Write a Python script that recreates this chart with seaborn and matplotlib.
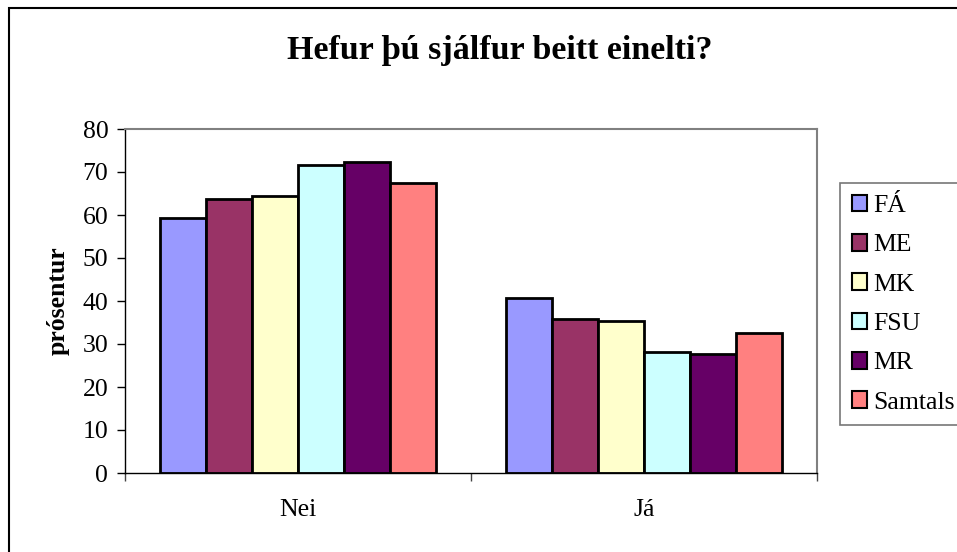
"""Hefur þú sjálfur beitt einelti? - grouped bar chart."""

import pandas as pd
import matplotlib
matplotlib.use('Agg')
import matplotlib.pyplot as plt
import seaborn as sns
from matplotlib.patches import Rectangle
from matplotlib.ticker import FixedLocator

svor = ['Nei', 'Já']
skolar = ['FÁ', 'ME', 'MK', 'FSU', 'MR', 'Samtals']
nei = [59.2, 63.8, 64.4, 71.7, 72.3, 67.5]
ja = [40.6, 35.8, 35.4, 28.1, 27.6, 32.5]
litir = ['#9999FF', '#993366', '#FFFFCC', '#CCFFFF', '#660066', '#FF8080']

sns.set_style('white')
plt.rcParams['font.family'] = ['Liberation Serif', 'DejaVu Serif']
plt.rcParams['text.color'] = 'black'
plt.rcParams['axes.labelcolor'] = 'black'
plt.rcParams['xtick.color'] = 'black'
plt.rcParams['ytick.color'] = 'black'

df = pd.DataFrame({
    'svar': [svor[0]] * len(skolar) + [svor[1]] * len(skolar),
    'skoli': skolar * 2,
    'prosent': nei + ja,
})

fig = plt.figure(figsize=(9.57, 5.52), dpi=100)
ax = fig.add_axes([125 / 957, 1 - 473 / 552, (817 - 125) / 957, (473 - 129) / 552])

sns.barplot(data=df, x='svar', y='prosent', hue='skoli', hue_order=skolar,
            palette=litir, edgecolor='black', linewidth=2, width=0.8,
            saturation=1, errorbar=None, ax=ax)

fs = 18.5
ax.set_ylim(0, 80)
ax.set_xlim(-0.5, 1.5)
ax.set_yticks(range(0, 81, 10))
ax.tick_params(axis='y', direction='out', length=6, width=1, color='black',
               pad=6, labelsize=fs, left=True)
ax.tick_params(axis='x', which='major', length=0, pad=19, labelsize=fs)
ax.xaxis.set_minor_locator(FixedLocator([-0.5, 0.5, 1.5]))
ax.tick_params(axis='x', which='minor', direction='out', length=6, width=1,
               color='#444444', bottom=True)
ax.set_xlabel('')
ax.set_ylabel('prósentur', fontsize=fs, fontweight='bold', labelpad=9)
ax.grid(False)

for side in ['left', 'bottom']:
    ax.spines[side].set_color('black')
    ax.spines[side].set_linewidth(1)
for side in ['top', 'right']:
    ax.spines[side].set_visible(True)
    ax.spines[side].set_color('#808080')
    ax.spines[side].set_linewidth(1.5)

fig.text(500 / 957, 1 - 51 / 552, 'Hefur þú sjálfur beitt einelti?',
         ha='center', va='center', fontsize=24.5, fontweight='bold')

leg = ax.legend(loc='upper left', bbox_to_anchor=(840 / 957, 1 - 183 / 552),
                bbox_transform=fig.transFigure, fontsize=fs, frameon=True,
                fancybox=False, edgecolor='#555555', borderpad=0.45,
                labelspacing=0.66, handlelength=0.62, handleheight=0.62,
                handletextpad=0.22, borderaxespad=0)
leg.get_frame().set_linewidth(1.2)
for h in leg.legend_handles:
    h.set_edgecolor('black')
    h.set_linewidth(1.5)

# ytri rammi
fig.patches.append(Rectangle((9 / 957, -0.1), 1.2, 1.1 - 8 / 552,
                             transform=fig.transFigure, fill=False,
                             edgecolor='black', linewidth=1.5))

fig.savefig('out.png', dpi=100)
